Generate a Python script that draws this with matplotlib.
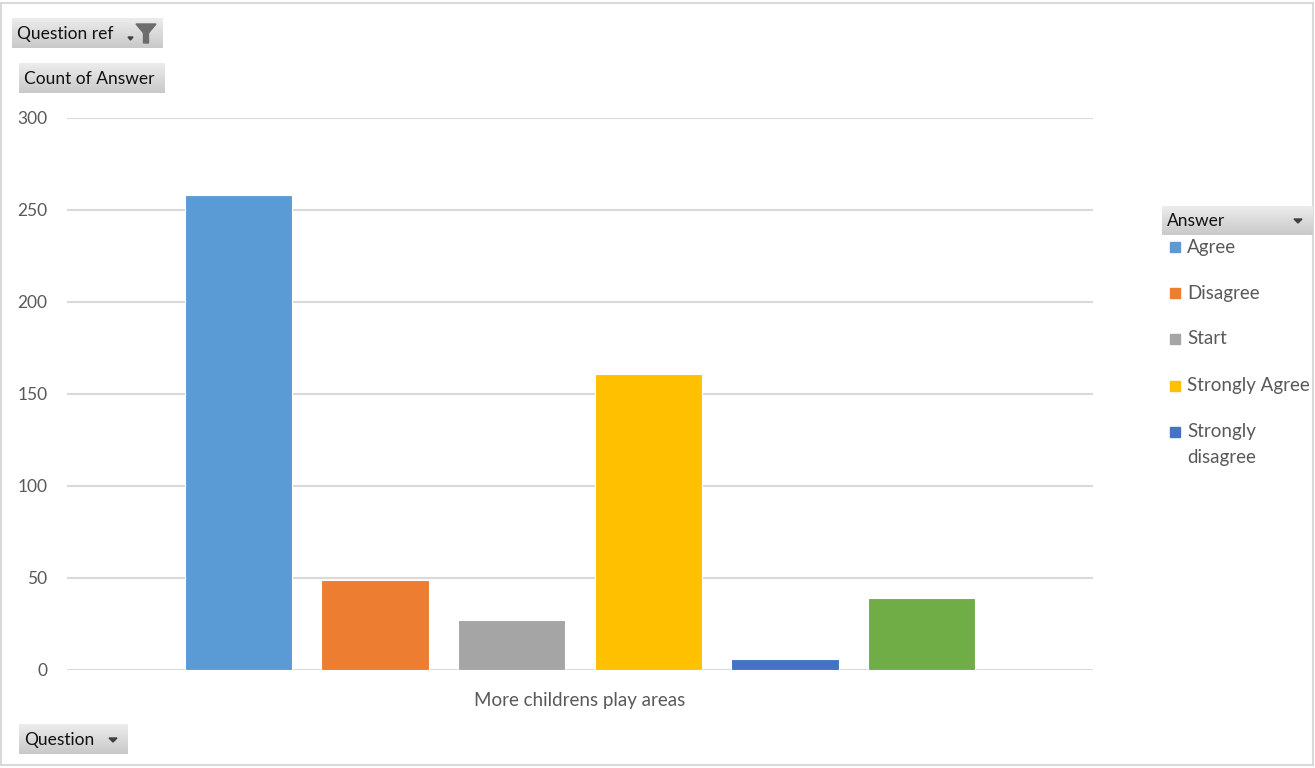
import matplotlib
matplotlib.use("Agg")
import matplotlib.pyplot as plt
import numpy as np
from matplotlib.patches import Rectangle, Polygon

# data
question = "More childrens play areas"
answers = ["Agree", "Disagree", "Start", "Strongly Agree", "Strongly disagree", "(blank)"]
counts = [258, 49, 27, 161, 6, 39]
colors = ["#5B9BD5", "#ED7D31", "#A5A5A5", "#FFC000", "#4472C4", "#70AD47"]
legend_shown = 5          # the legend box cuts off after five entries
y_ticks = [0, 50, 100, 150, 200, 250, 300]

W, H = 1315, 768
plt.rcParams['font.family'] = ['Lato', 'DejaVu Sans']
fig = plt.figure(figsize=(W / 100, H / 100), dpi=100)
fig.patch.set_facecolor("white")

# plot area in pixels: x 67..1093, y 118..670
ax = fig.add_axes([67 / W, (H - 670) / H, 1026 / W, 552 / H])
x = np.arange(len(answers))
ax.bar(x, counts, width=0.785, color=colors, edgecolor="white", linewidth=0.8, zorder=3)
ax.set_ylim(0, 300)
ax.set_xlim(-1.255, len(answers) - 1 + 1.255)
ax.set_yticks(y_ticks)
ax.yaxis.grid(True, color="#d9d9d9", linewidth=1.5, zorder=0)
ax.set_xticks([(len(answers) - 1) / 2])
ax.set_xticklabels([question])
ax.tick_params(axis="both", length=0, labelsize=12.5, colors="#595959")
ax.tick_params(axis="x", labelsize=13.5, pad=16)
ax.tick_params(axis="y", pad=14)
for s in ax.spines.values():
    s.set_visible(False)

# overlay in pixel coordinates for the pivot buttons, legend and frame
ov = fig.add_axes([0, 0, 1, 1], facecolor="none")
ov.set_xlim(0, W)
ov.set_ylim(H, 0)
ov.axis("off")

ov.add_patch(Rectangle((1, 3), W - 3, H - 6, fill=False, edgecolor="#d9d9d9", linewidth=1.5))

grad = np.linspace(0, 1, 50).reshape(-1, 1)
grad_cmap = matplotlib.colors.LinearSegmentedColormap.from_list("btn", ["#ececec", "#c9c9c9"])


def button(x0, y0, w, h, text):
    ov.imshow(grad, extent=(x0, x0 + w, y0 + h, y0), cmap=grad_cmap, aspect="auto", zorder=2)
    ov.text(x0 + 5, y0 + h / 2 + 1, text, fontsize=12.5, color="#111111",
            va="center", ha="left", zorder=3)


def down_arrow(cx, cy, size=4):
    ov.add_patch(Polygon([(cx - size, cy - size / 2), (cx + size, cy - size / 2), (cx, cy + size / 2)],
                         closed=True, color="#404040", zorder=4))


button(12, 18, 151, 30, "Question ref")
ov.add_patch(Polygon([(128, 37), (133, 37), (130.5, 40)], closed=True, color="#404040", zorder=4))
ov.add_patch(Polygon([(136, 24), (156, 24), (148.5, 33), (148.5, 43), (143.5, 43), (143.5, 33)],
                     closed=True, color="#6d6d6d", zorder=4))
button(19, 63, 146, 30, "Count of Answer")
button(19, 724, 109, 30, "Question")
down_arrow(113, 740)
button(1162, 206, 151, 29, "Answer")
down_arrow(1298, 221)

# legend entries (long labels wrap onto a second line)
legend_y = [247, 293, 339, 386, 432]
for i in range(legend_shown):
    ov.add_patch(Rectangle((1170, legend_y[i] - 5), 10, 10, color=colors[i], zorder=3))
    if answers[i] == "Strongly disagree":
        lines = ["Strongly", "disagree"]
    else:
        lines = [answers[i]]
    for j, line in enumerate(lines):
        ov.text(1187, legend_y[i] + 25 * j, line, fontsize=13.5, color="#595959",
                va="center", ha="left", zorder=3)

fig.savefig("out.png", dpi=100, facecolor="white")
